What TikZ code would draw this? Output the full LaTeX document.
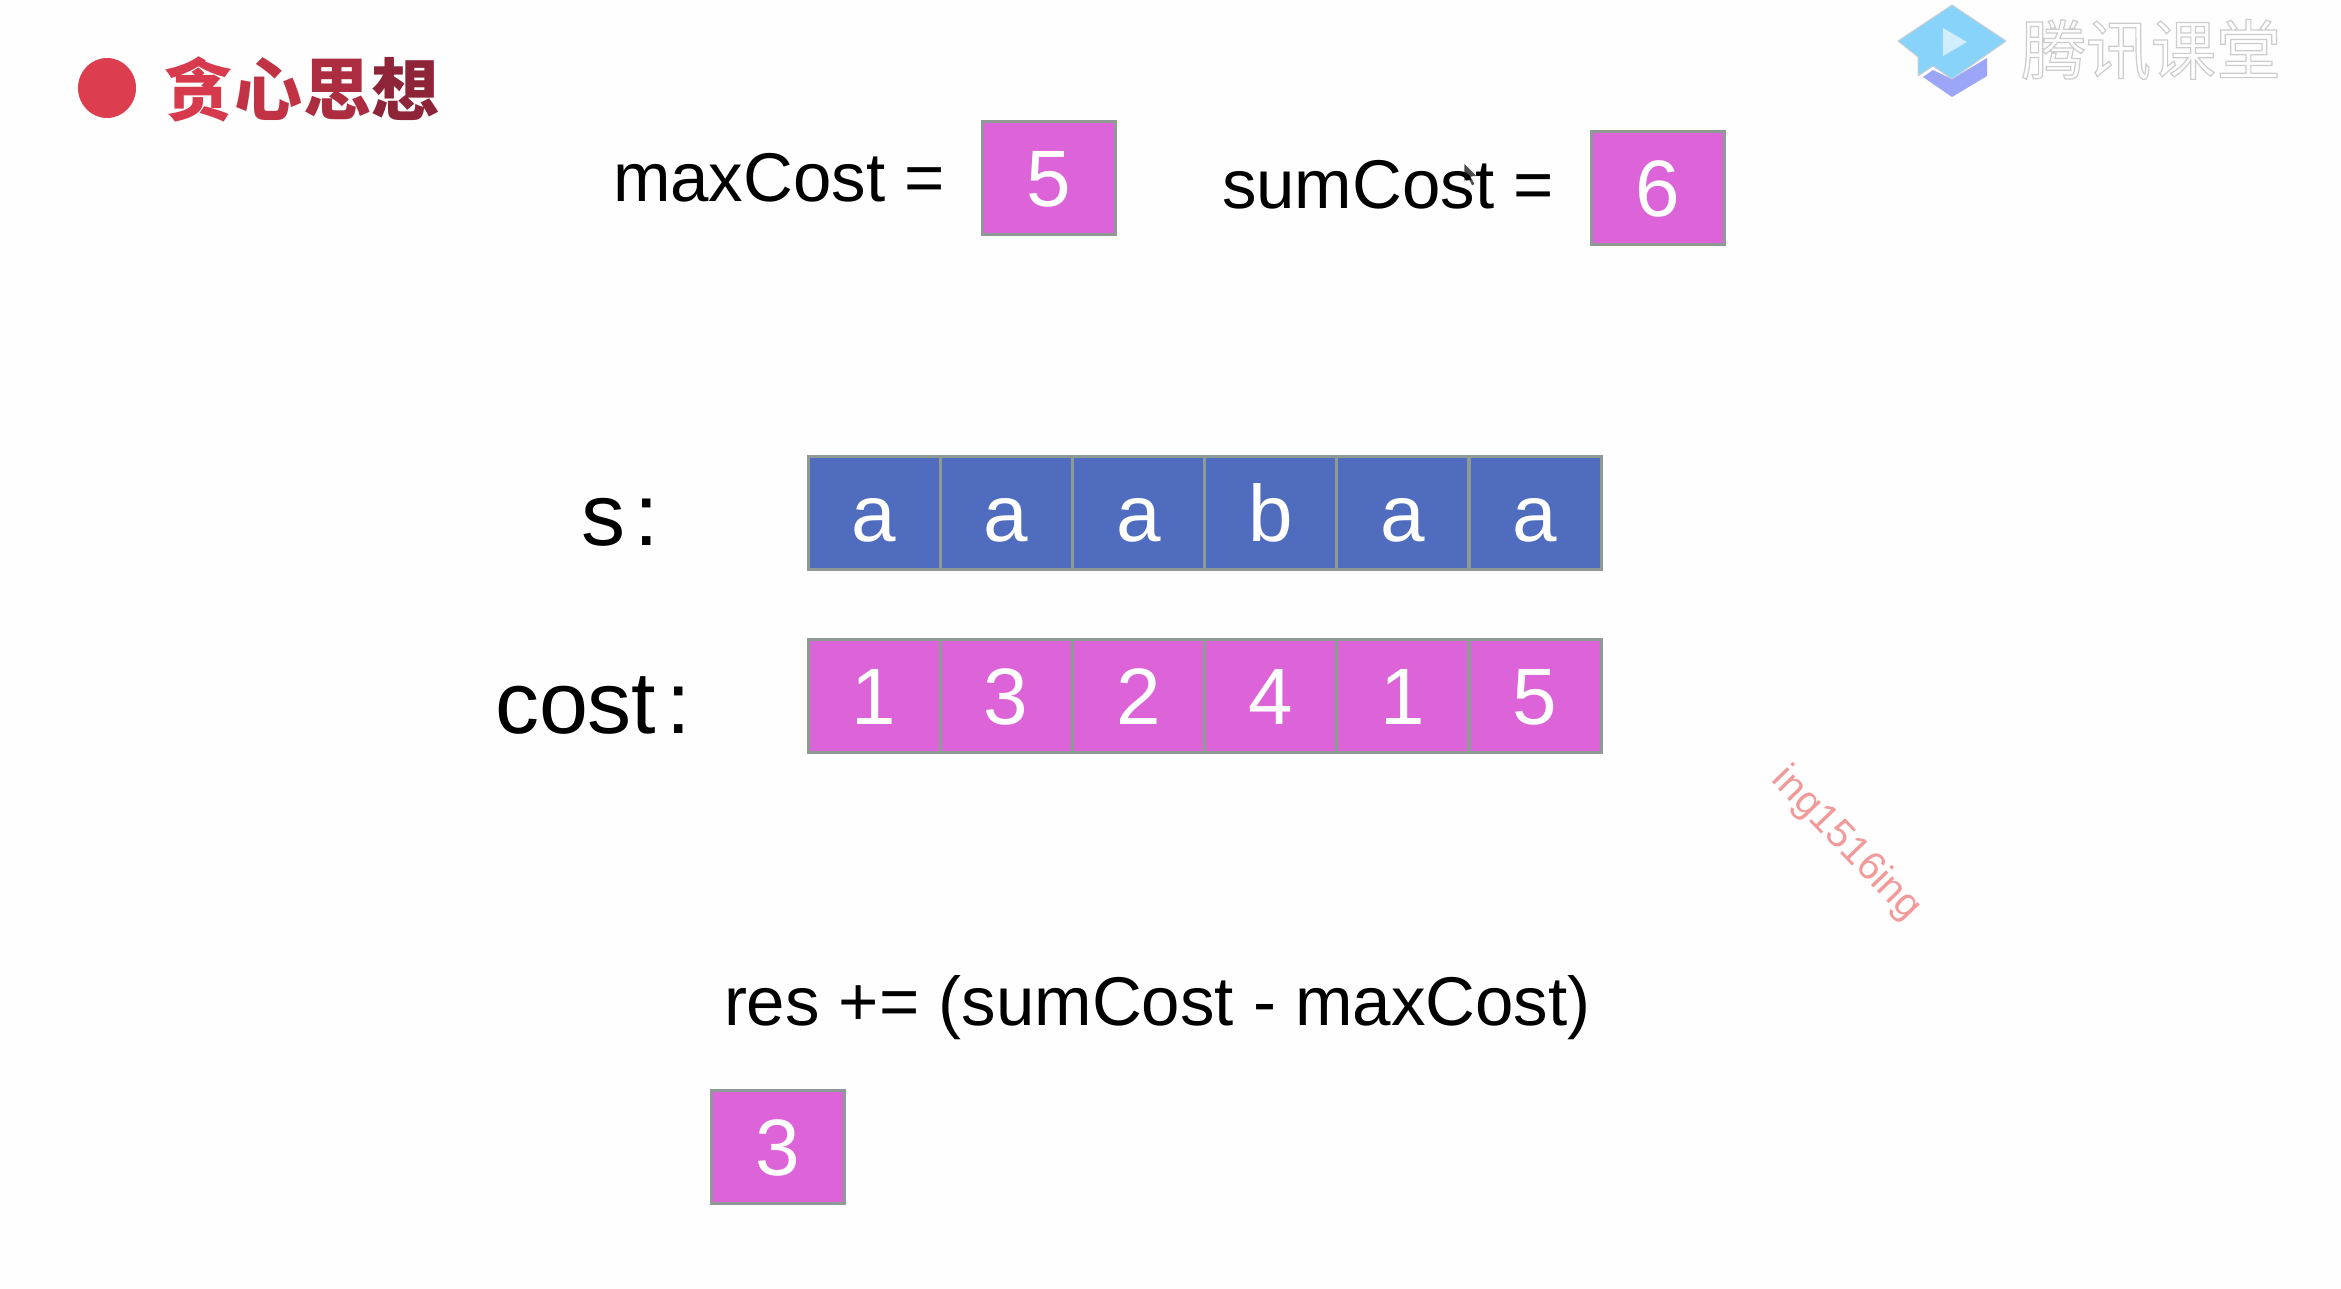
\documentclass[tikz,border=0pt]{standalone}
\usepackage{fontspec}
\setmainfont{Liberation Sans}
\newfontfamily\cjk{Noto Sans CJK SC}
\newcommand{\fsz}[1]{\fontsize{#1}{#1}\selectfont}
\definecolor{cellpink}{HTML}{DC64D8}
\definecolor{cellblue}{HTML}{4F6CBF}
\definecolor{cellline}{HTML}{8F9A96}
\definecolor{pagebg}{HTML}{FEFEFE}
\definecolor{bulletred}{HTML}{DC3D4F}
\definecolor{titleA}{HTML}{D63A4C}
\definecolor{titleB}{HTML}{C23245}
\definecolor{titleC}{HTML}{AC2C40}
\definecolor{titleD}{HTML}{8E2438}
\definecolor{logoblue}{HTML}{88D3FA}
\definecolor{logopurple}{HTML}{9BA6F8}
\definecolor{logoplay}{HTML}{D0EEFE}
\definecolor{logoedge}{HTML}{C9CFD3}
\definecolor{markred}{HTML}{F29A9A}
\tikzset{
  cellbox/.style={draw=cellline,line width=3pt,inner sep=0pt,outer sep=0pt,minimum width=132pt,minimum height=113pt,text=white,font=\fsz{80},text height=57pt,text depth=0pt,align=center},
  pinkcell/.style={cellbox,fill=cellpink},
  bluecell/.style={cellbox,fill=cellblue},
  codetext/.style={anchor=base west,inner sep=0pt,outer sep=0pt,text=black,font=\fsz{69}},
  rowlabel/.style={anchor=base west,inner sep=0pt,outer sep=0pt,text=black,font=\fsz{88}},
  titlechar/.style={inner sep=0pt,outer sep=0pt,font=\cjk\bfseries\fsz{68}},
}
\begin{document}
\begin{tikzpicture}[x=1pt,y=-1pt]
\useasboundingbox (0,0) rectangle (2341,1289);
\fill[pagebg] (0,0) rectangle (2341,1289);
% title
\fill[bulletred] (107,88) ellipse (29 and 30);
\node[titlechar,text=titleA] (t1) at (198,89) {贪};
\node[titlechar,text=titleB] (t2) at (268,89) {心};
\node[titlechar,text=titleC] (t3) at (337,89) {思};
\node[titlechar,text=titleD] (t4) at (405,89) {想};
% logo
\fill[logopurple] (1923,77) -- (1933,70) -- (1952,79) -- (1987,58) -- (1987,76) -- (1952,97) -- cycle;
\fill[logoblue,draw=logoedge,line width=1pt,line join=round] (1952,5) -- (2006,41) -- (1952,79) -- (1933,66) -- (1918,76) -- (1918,57) -- (1898,41) -- cycle;
\fill[logoplay] (1943,28) -- (1967,42) -- (1943,56) -- cycle;
\node[inner sep=0pt,outer sep=0pt,font=\cjk\fsz{65},text=white,anchor=center] (logotext) at (2151,50)
  {\special{pdf:code 2 Tr 0.8 G 1.2 w}腾讯课堂\special{pdf:code 0 Tr}};
% cursor
\fill[black!70,draw=white,line width=.6pt] (1464,163) -- (1464,182) -- (1468,178) -- (1472,186) -- (1475,184) -- (1471,177) -- (1477,176) -- cycle;
% top row
\node[codetext] (maxlabel) at (613,202) {maxCost =};
\node[pinkcell,minimum width=133pt] (maxbox) at (1048.5,178.5) {5};
\node[codetext] (sumlabel) at (1222,209) {sumCost =};
\node[pinkcell,minimum width=133pt] (sumbox) at (1658,188) {6};
% rows
\node[rowlabel] (slabel) at (581,545) {s\kern10pt:};
\node[rowlabel] (costlabel) at (495,733) {cost\kern10pt:};
\foreach \c/\t [count=\i from 0] in {1/a,2/a,3/a,4/b,5/a,6/a}
  \node[bluecell] (s\c) at (874+132.2*\i,512.5) {\t};
\foreach \c/\t [count=\i from 0] in {1/1,2/3,3/2,4/4,5/1,6/5}
  \node[pinkcell] (c\c) at (874+132.2*\i,696) {\t};
% result
\node[codetext] (reslabel) at (724,1025) {res += (sumCost - maxCost)};
\node[pinkcell,minimum width=133pt] (resbox) at (777.5,1147) {3};
% watermark
\node[inner sep=0pt,outer sep=0pt,font=\fsz{40},text=markred,rotate=-46] (mark) at (1846,844) {ing1516ing};
\end{tikzpicture}
\end{document}
